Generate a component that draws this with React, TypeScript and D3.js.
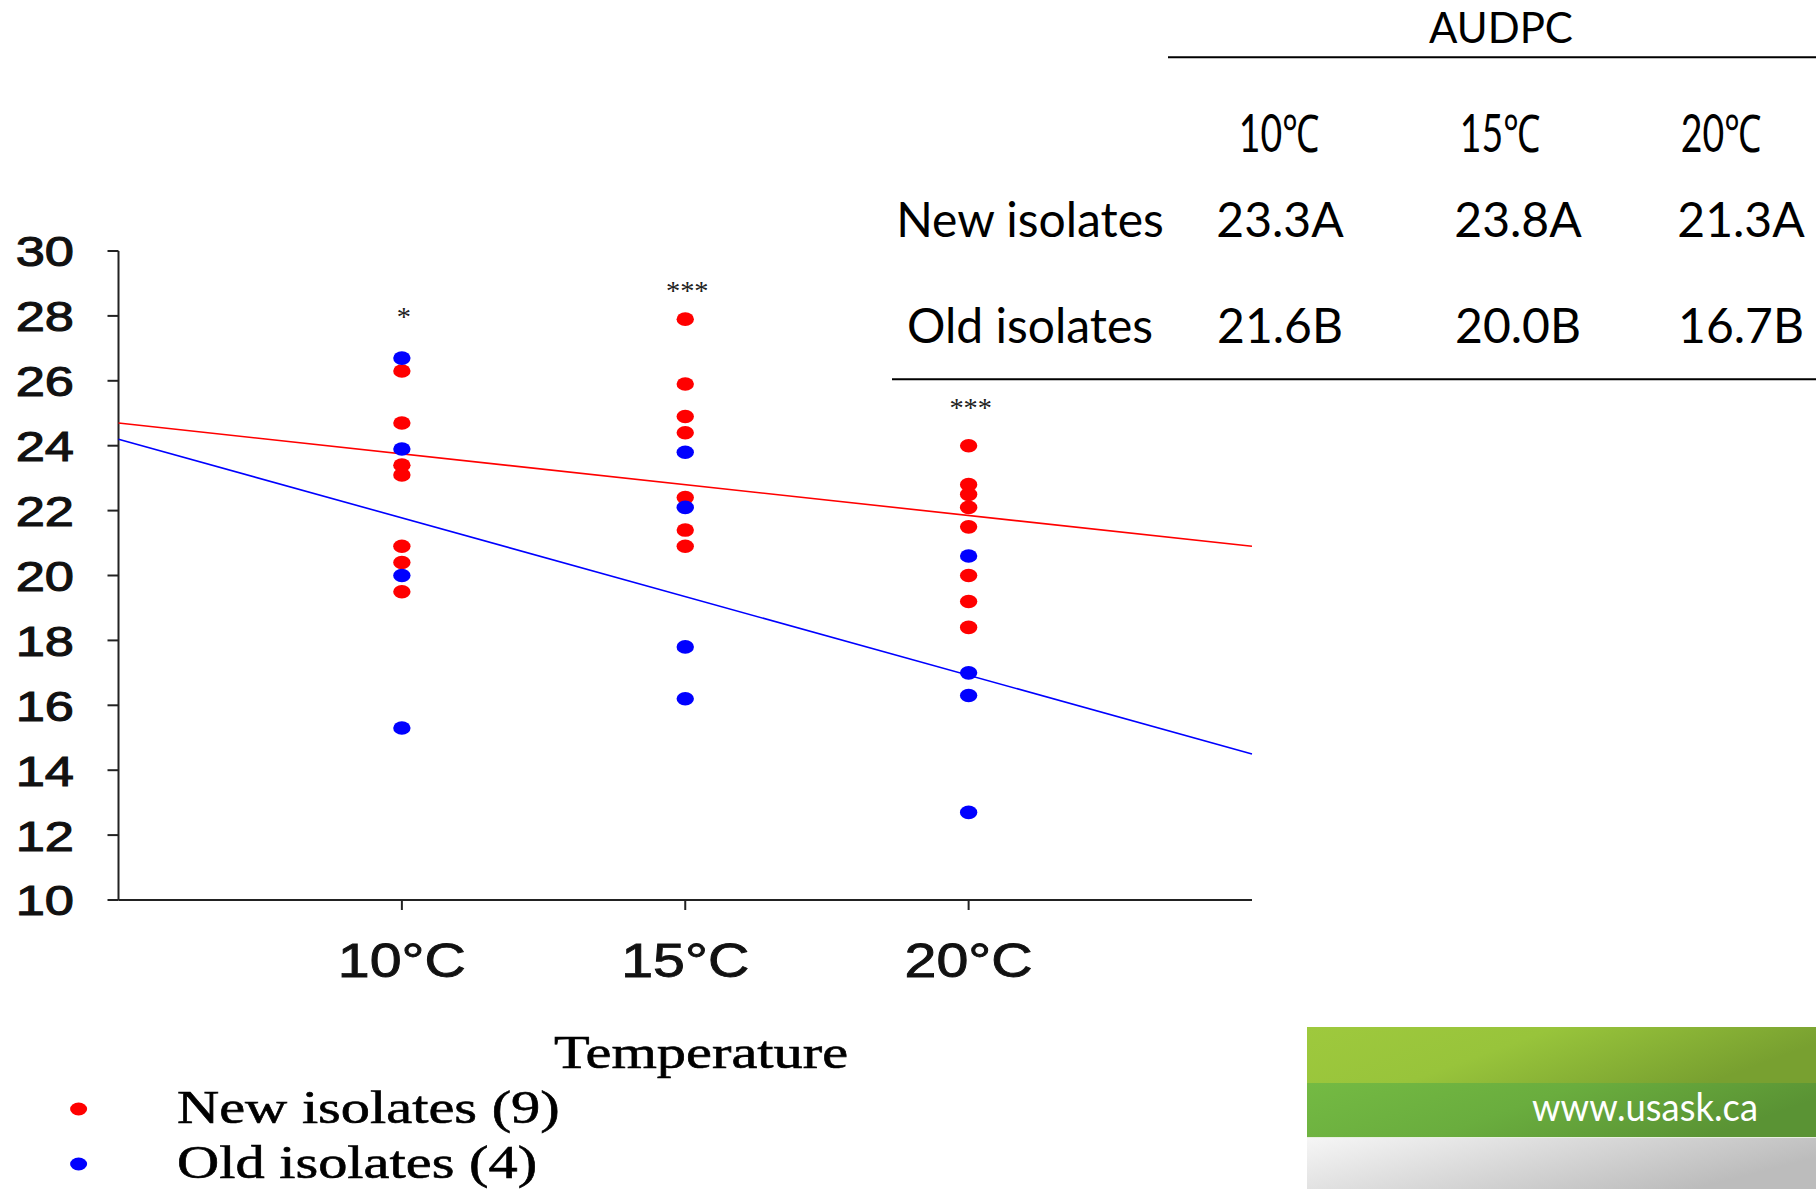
import React from 'react'
import * as d3 from 'd3'

// temperatures and their labels
const temps = [10, 15, 20]
const tempLabels = ['10°C', '15°C', '20°C']

// AUDPC per isolate, one list per temperature
const newIsolates = [
  [26.3, 24.7, 23.4, 23.1, 20.9, 20.4, 19.5],
  [27.9, 25.9, 24.9, 24.4, 22.4, 21.4, 20.9],
  [24.0, 22.8, 22.5, 22.1, 21.5, 20.0, 19.2, 18.4],
]
const oldIsolates = [
  [26.7, 23.9, 20.0, 15.3],
  [23.8, 22.1, 17.8, 16.2],
  [20.6, 17.0, 16.3, 12.7],
]

// regression lines, value at each end of the x range
const fitRange = [5, 25]
const newFit = [24.7, 20.9]
const oldFit = [24.2, 14.5]

// significance marks and the level they sit at
const sigMarks = ['*', '***', '***']
const sigLevels = [28.1, 28.9, 25.3]

// table
const tableCols = ['10℃', '15℃', '20℃']
const tableRows = ['New isolates', 'Old isolates']
const audpcNew = ['23.3A', '23.8A', '21.3A']
const audpcOld = ['21.6B', '20.0B', '16.7B']

const legendItems = ['New isolates (9)', 'Old isolates (4)']
const colors = ['#ff0000', '#0000ff']

const W = 1816
const H = 1189

const x = d3.scaleLinear().domain([5, 25]).range([118.5, 1252])
const y = d3.scaleLinear().domain([10, 30]).range([900, 251])

const ARIAL = "'Liberation Sans', Arial, sans-serif"
const TIMES = "'Liberation Serif', 'Times New Roman', serif"
const CAL = "Lato, 'Open Sans', sans-serif"

// the chart was pasted stretched, so its text is wider than the font
const SText = ({ x, y, sx = 1, anchor = 'middle', children, ...rest }) => (
  <text
    transform={`translate(${x},${y}) scale(${sx},1)`}
    textAnchor={anchor}
    {...rest}
  >
    {children}
  </text>
)

const Dots = ({ groups, color }) => (
  <g fill={color}>
    {groups.map((vals, i) =>
      vals.map((v, j) => (
        <ellipse key={`${i}-${j}`} cx={x(temps[i])} cy={y(v)} rx={8.7} ry={6.8} />
      ))
    )}
  </g>
)

const App = () => {
  const line = d3
    .line()
    .x(d => x(d[0]))
    .y(d => y(d[1]))

  const colX = d3.scaleOrdinal().domain(tableCols).range([1280, 1518, 1741])
  const headX = d3.scalePoint().domain(tableCols).range([1279, 1721])
  const rowY = d3.scalePoint().domain(tableRows).range([236.7, 343.3])

  return (
    <svg
      width={W}
      height={H}
      style={{ position: 'absolute', left: 0, top: 0, background: '#fff' }}
    >
      <defs>
        <linearGradient id="band1" x1="0" y1="0" x2="1" y2="0.3">
          <stop offset="0" stopColor="#9ec93d" />
          <stop offset="0.45" stopColor="#98c43b" />
          <stop offset="1" stopColor="#78a030" />
        </linearGradient>
        <linearGradient id="band2" x1="0" y1="0" x2="1" y2="0.3">
          <stop offset="0" stopColor="#74ba43" />
          <stop offset="0.5" stopColor="#6aad3e" />
          <stop offset="1" stopColor="#5a9334" />
        </linearGradient>
        <linearGradient id="band3" x1="0" y1="0" x2="1" y2="0.4">
          <stop offset="0" stopColor="#f6f6f6" />
          <stop offset="1" stopColor="#bcbcbc" />
        </linearGradient>
      </defs>

      {/* axes */}
      <g stroke="#222" strokeWidth={2}>
        <line x1={x(5)} x2={x(5)} y1={y(30)} y2={y(10)} />
        {y.ticks(10).map(t => (
          <line key={t} x1={x(5) - 11} x2={x(5)} y1={y(t)} y2={y(t)} />
        ))}
        <line x1={x(5)} x2={x(25)} y1={y(10)} y2={y(10)} />
        {temps.map(t => (
          <line key={t} x1={x(t)} x2={x(t)} y1={y(10)} y2={y(10) + 10} />
        ))}
      </g>
      <g fontFamily={ARIAL} fontSize={43} fill="#111" stroke="#111" strokeWidth={1.1}>
        {y.ticks(10).map(t => (
          <SText key={t} x={74} y={y(t)} sx={1.22} anchor="end" dy="0.36em">
            {t}
          </SText>
        ))}
      </g>
      <g fontFamily={ARIAL} fontSize={49} fill="#111" stroke="#111" strokeWidth={0.9}>
        {temps.map((t, i) => (
          <SText key={t} x={x(t)} y={976.5} sx={1.17}>
            {tempLabels[i]}
          </SText>
        ))}
      </g>

      {/* regression lines */}
      <path
        d={line([[fitRange[0], newFit[0]], [fitRange[1], newFit[1]]])}
        stroke={colors[0]}
        strokeWidth={1.6}
        fill="none"
      />
      <path
        d={line([[fitRange[0], oldFit[0]], [fitRange[1], oldFit[1]]])}
        stroke={colors[1]}
        strokeWidth={1.6}
        fill="none"
      />

      <Dots groups={newIsolates} color={colors[0]} />
      <Dots groups={oldIsolates} color={colors[1]} />

      <g fontFamily={TIMES} fontSize={27} fill="#222">
        {temps.map((t, i) => (
          <SText key={t} x={x(t) + 2} y={y(sigLevels[i]) + 13} sx={1.05}>
            {sigMarks[i]}
          </SText>
        ))}
      </g>

      {/* axis title and legend */}
      <g fontFamily={TIMES} fontSize={46} fill="#000" stroke="#000" strokeWidth={0.6}>
        <SText x={701} y={1068} sx={1.27}>
          Temperature
        </SText>
        {legendItems.map((d, i) => (
          <g key={d}>
            <ellipse cx={78.6} cy={1109 + i * 55} rx={8.5} ry={6.5} fill={colors[i]} stroke="none" />
            <SText x={177} y={1122.5 + i * 55} sx={1.27} anchor="start">
              {d}
            </SText>
          </g>
        ))}
      </g>

      {/* AUDPC table */}
      <g fontFamily={CAL} fontSize={48} fill="#000">
        <text x={1501} y={42.7} textAnchor="middle" fontSize={42}>
          AUDPC
        </text>
        <line x1={1168} x2={W} y1={57.3} y2={57.3} stroke="#000" strokeWidth={2} />
        {tableCols.map(c => (
          <SText key={c} x={headX(c)} y={152} sx={0.72} fontSize={52}>
            {c}
          </SText>
        ))}
        {tableRows.map(r => (
          <text key={r} x={1030} y={rowY(r)} textAnchor="middle">
            {r}
          </text>
        ))}
        {tableCols.map((c, i) => (
          <g key={c}>
            <text x={colX(c)} y={rowY(tableRows[0])} textAnchor="middle">
              {audpcNew[i]}
            </text>
            <text x={colX(c)} y={rowY(tableRows[1])} textAnchor="middle">
              {audpcOld[i]}
            </text>
          </g>
        ))}
        <line x1={892} x2={W} y1={379.3} y2={379.3} stroke="#000" strokeWidth={2} />
      </g>

      {/* footer logo band */}
      <rect x={1307} y={1027} width={W - 1307} height={56} fill="url(#band1)" />
      <rect x={1307} y={1083} width={W - 1307} height={54} fill="url(#band2)" />
      <rect x={1307} y={1137} width={W - 1307} height={H - 1137} fill="url(#band3)" />
      <line x1={1307} x2={W} y1={1137.5} y2={1137.5} stroke="#e8efe0" strokeWidth={1} />
      <text
        x={1532}
        y={1120.5}
        textLength={226}
        lengthAdjust="spacingAndGlyphs"
        fontFamily={CAL}
        fontSize={39}
        fill="#fff"
      >
        www.usask.ca
      </text>
    </svg>
  )
}

export default App
